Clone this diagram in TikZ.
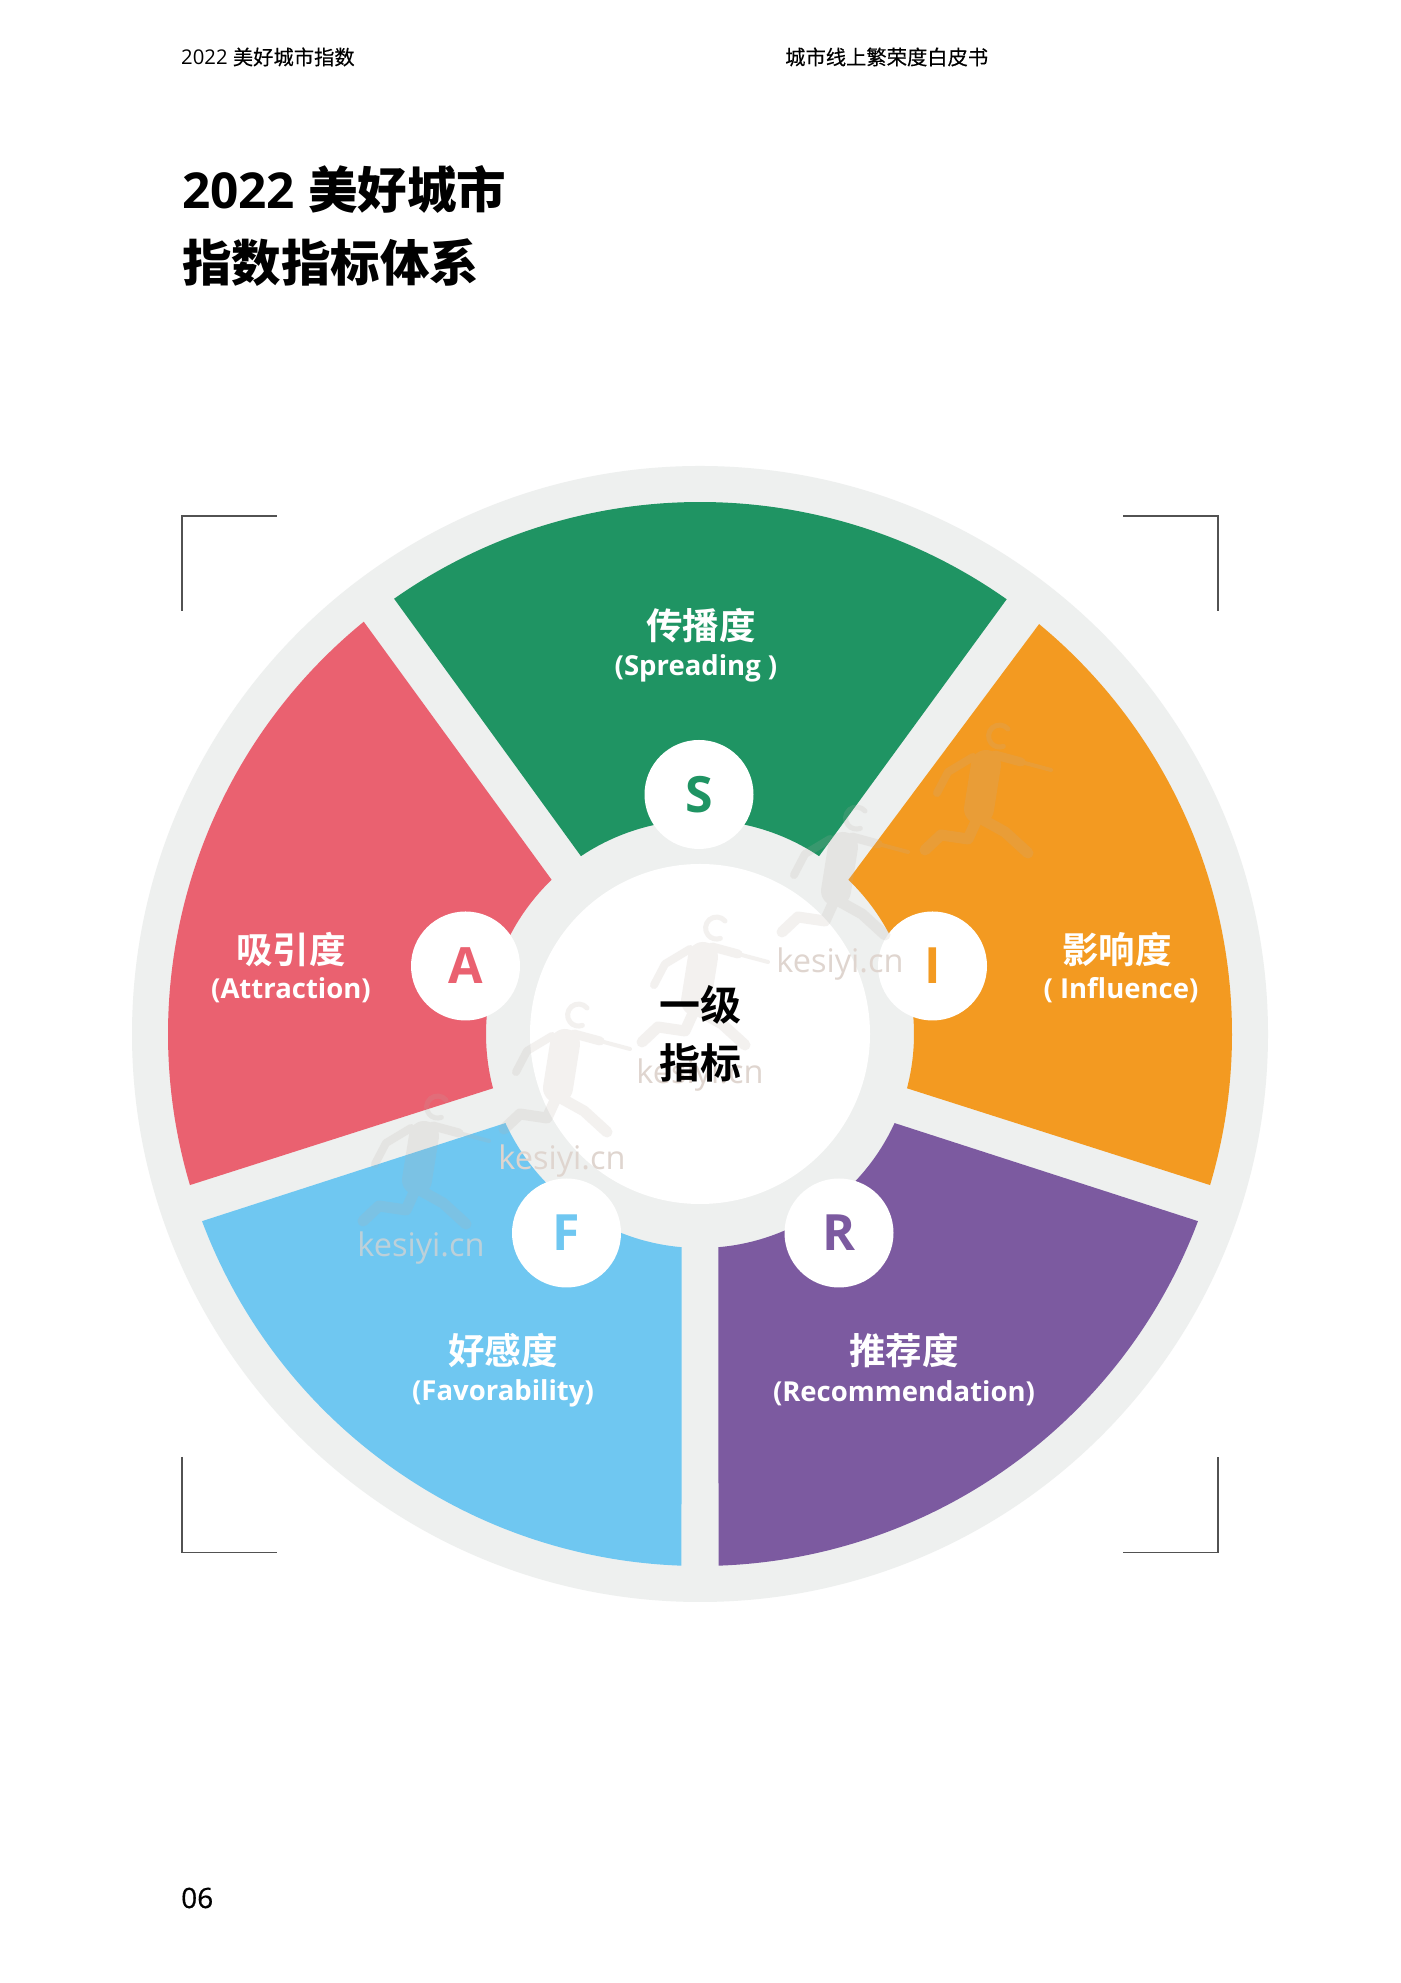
\documentclass[tikz,border=0pt]{standalone}
\usepackage{fontspec}
\setmainfont{Open Sans}
\newfontfamily\cjk[FakeBold=0.35]{Noto Sans CJK SC}
\newfontfamily\cjkbold{Noto Sans CJK SC Bold}
\newfontfamily\pagefont[FakeBold=0.6]{Open Sans}
\usepackage{xcolor}
\definecolor{ringgrey}{HTML}{EEF0EF}
\definecolor{spreadgreen}{HTML}{1F9463}
\definecolor{attractpink}{HTML}{EA6170}
\definecolor{influorange}{HTML}{F39A21}
\definecolor{favorblue}{HTML}{6FC7F1}
\definecolor{recompurple}{HTML}{7C5AA0}
\definecolor{marktone}{HTML}{DFD5CF}
\definecolor{runnertone}{HTML}{B8ACA6}
\tikzset{
  x=1pt, y=1pt,
  head/.style={font=\fontsize{20.3}{20.3}\selectfont, anchor=west, inner sep=0pt},
  title/.style={font=\fontsize{49.5}{49.5}\bfseries\selectfont, anchor=west, inner sep=0pt},
  cnlabel/.style={font=\cjkbold\fontsize{36.5}{36.5}\selectfont, text=white, inner sep=0pt},
  enlabel/.style={font=\fontsize{27.5}{27.5}\bfseries\selectfont, text=white, inner sep=0pt},
  badge/.style={circle, fill=white, minimum size=109pt, inner sep=0pt, font=\fontsize{50}{50}\bfseries\selectfont},
  corner/.style={draw=black!68, line width=1.8pt},
  marktext/.style={font=\fontsize{32.5}{32.5}\selectfont, text=marktone, inner sep=0pt},
  runner/.style={draw=runnertone, line cap=round, line join=round},
}
% one annular piece: colour, outer angles, inner angles
\newcommand{\sector}[5]{
  \fill[#1] (#2:532) arc[start angle=#2, end angle=#3, radius=532]
    -- (#4:214) arc[start angle=#4, end angle=#5, radius=214] -- cycle;
}
% faint runner, origin at the middle of the figure
\newcommand{\runnerfig}[1]{
  \begin{scope}[shift={(#1)}, transparency group, opacity=.17]
    \draw[runner, line width=5pt] (25,88) arc[start angle=40, end angle=290, radius=11];
    \draw[runner, line width=30pt] (3,52) -- (-4,8);
    \draw[runner, line width=9pt] (12,62) -- (38,55);
    \draw[runner, line width=4pt] (38,55) -- (68,47);
    \draw[runner, line width=8pt] (-10,60) -- (-35,45) -- (-46,24);
    \draw[runner, line width=11pt] (-5,0) -- (22,-15) -- (45,-36);
    \draw[runner, line width=11pt] (-5,0) -- (-15,-22) -- (-42,-18) -- (-58,-33);
  \end{scope}
}
\begin{document}
\begin{tikzpicture}
\useasboundingbox (0,0) rectangle (1400,1983);
\fill[white] (0,0) rectangle (1400,1983);

% Page heads
\node[head] (headleft) at (181,1926) {2022 {\cjk 美好城市指数}};
\node[head] (headright) at (785,1926) {\cjk 城市线上繁荣度白皮书};
\node[title] (titleone) at (182,1793) {2022 {\cjkbold 美好城市}};
\node[title] (titletwo) at (182,1720) {\cjkbold 指数指标体系};
\node[anchor=west, inner sep=0pt, font=\pagefont\fontsize{28}{28}\selectfont] (pagenum) at (181,85) {06};

% Corner marks
\draw[corner] (182,1372) -- (182,1467) -- (277,1467);
\draw[corner] (1123,1467) -- (1218,1467) -- (1218,1372);
\draw[corner] (182,526) -- (182,430.5) -- (277,430.5);
\draw[corner] (1123,430.5) -- (1218,430.5) -- (1218,526);

\begin{scope}[shift={(700,949)}]
% Wheel
\fill[ringgrey] (0,0) circle (568);
\sector{spreadgreen}{54.8}{125.1}{123.8}{56.2}
\sector{attractpink}{129.2}{196.5}{194.7}{133.9}
\sector{favorblue}{200.6}{268.0}{265.1}{204.6}
\sector{recompurple}{272.0}{339.4}{335.4}{274.9}
\sector{influorange}{343.5}{410.4}{406.1}{345.3}
\fill[white] (0,0) circle (170);

% Badges
\node[badge, text=spreadgreen] (s) at (-1,239.5) {S};
\node[badge, text=attractpink] (a) at (-234.5,68) {A};
\node[badge, text=influorange] (i) at (232.5,68) {I};
\node[badge, text=favorblue] (f) at (-133.5,-199) {F};
\node[badge, text=recompurple] (r) at (139,-199) {R};

% Sector labels
\node[cnlabel] (spreadcn) at (1,408) {传播度};
\node[enlabel] (spreaden) at (-4,365.5) {(Spreading )};
\node[cnlabel] (attractcn) at (-409,84) {吸引度};
\node[enlabel] (attracten) at (-409,43.5) {(Attraction)};
\node[cnlabel] (influcn) at (417,84) {影响度};
\node[enlabel] (influen) at (421,43.5) {( Influence)};
\node[cnlabel] (favorcn) at (-197,-317) {好感度};
\node[enlabel] (favoren) at (-197,-359.5) {(Favorability)};
\node[cnlabel] (recomcn) at (204,-317) {推荐度};
\node[enlabel] (recomen) at (204,-359.5) {(Recommendation)};

% Faint print marks
\runnerfig{0,25}
\runnerfig{140,135}
\runnerfig{-138,-62}
\runnerfig{-279,-154}
\runnerfig{283,217}
\node[marktext] (markone) at (0,-41) {kesiyi.cn};
\node[marktext] (marktwo) at (140,70) {kesiyi.cn};
\node[marktext] (markthree) at (-138,-127) {kesiyi.cn};
\node[marktext, opacity=.7] (markfour) at (-279,-214) {kesiyi.cn};

% Centre
\node[font=\cjkbold\fontsize{41}{41}\selectfont, inner sep=0pt] (centreone) at (0,29) {一级};
\node[font=\cjkbold\fontsize{41}{41}\selectfont, inner sep=0pt] (centretwo) at (0,-29) {指标};
\end{scope}
\end{tikzpicture}
\end{document}
